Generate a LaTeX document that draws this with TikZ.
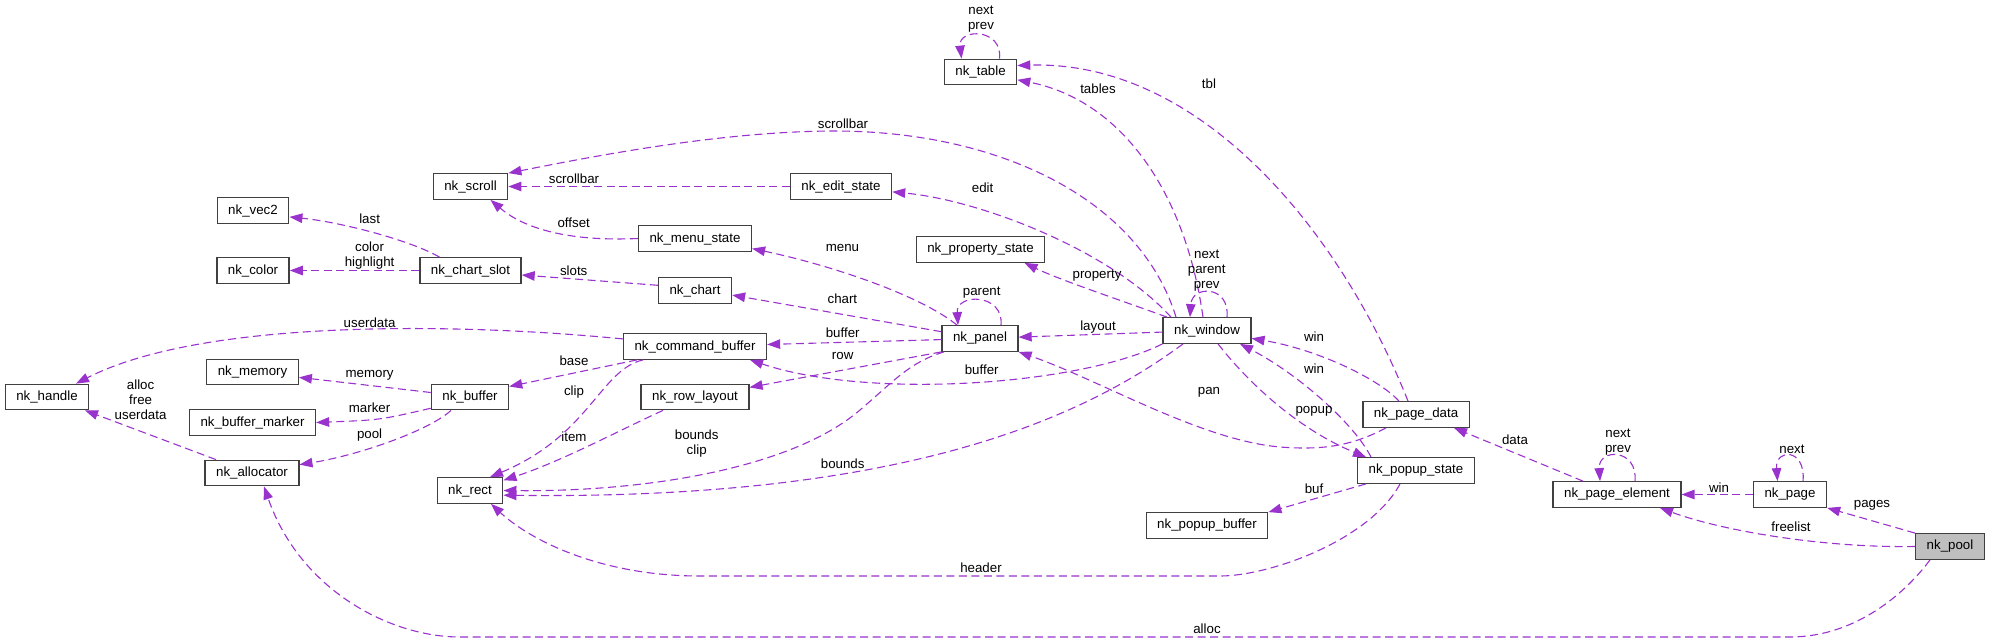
\documentclass[tikz,border=0pt]{standalone}
\usepackage{fontspec}
\setmainfont{Liberation Sans}
\usetikzlibrary{arrows.meta}
\definecolor{orchid}{RGB}{154,50,205}
\definecolor{boxline}{RGB}{64,64,64}
\definecolor{hilite}{RGB}{191,191,191}
\newcommand{\gfont}{\fontsize{13.3}{15}\selectfont}
\tikzset{
  >={Triangle[length=13pt,width=9.5pt]},
  cls/.style={draw=boxline,line width=1.3pt,fill=#1,minimum height=25.5pt,
    inner xsep=11pt,font=\gfont},
  cls/.default=white,
  rel/.style={->,draw=orchid,fill=none,line width=1.1pt,dash pattern=on 8pt off 4.5pt},
  lbl/.style={font=\gfont,align=center,inner sep=0pt},
}

\begin{document}
\begin{tikzpicture}[x=1pt,y=-1pt]
  \useasboundingbox (0,0) rectangle (1991,643);
  % classes
  \node[cls] (table) at (980.5,72) {nk\_table};
  \node[cls] (scroll) at (470.5,186.5) {nk\_scroll};
  \node[cls] (editstate) at (841,186.5) {nk\_edit\_state};
  \node[cls] (vec2) at (253,210.5) {nk\_vec2};
  \node[cls] (menustate) at (695,238.5) {nk\_menu\_state};
  \node[cls] (propstate) at (980.5,249.5) {nk\_property\_state};
  \node[cls] (colr) at (253,270.5) {nk\_color};
  \node[cls] (chartslot) at (470.5,270.5) {nk\_chart\_slot};
  \node[cls] (chart) at (695,290.5) {nk\_chart};
  \node[cls] (cmdbuf) at (695,346.5) {nk\_command\_buffer};
  \node[cls] (panel) at (980,338.5) {nk\_panel};
  \node[cls] (window) at (1207,330.5) {nk\_window};
  \node[cls] (handle) at (47,397) {nk\_handle};
  \node[cls] (memory) at (252.5,372) {nk\_memory};
  \node[cls] (buffer) at (470,397) {nk\_buffer};
  \node[cls] (rowlayout) at (695,397) {nk\_row\_layout};
  \node[cls] (bufmarker) at (252.5,422.5) {nk\_buffer\_marker};
  \node[cls] (pagedata) at (1416,414.5) {nk\_page\_data};
  \node[cls] (allocator) at (252,473) {nk\_allocator};
  \node[cls] (popupstate) at (1416,470.5) {nk\_popup\_state};
  \node[cls] (rect) at (470,490.5) {nk\_rect};
  \node[cls] (pageelem) at (1617,494.5) {nk\_page\_element};
  \node[cls] (page) at (1790,494.5) {nk\_page};
  \node[cls] (popupbuf) at (1207,525.5) {nk\_popup\_buffer};
  \node[cls=hilite] (pool) at (1950,546.5) {nk\_pool};

  % members
  \draw[rel] ([xshift=19pt]table.north) .. controls (1003,28) and (958,28) .. ([xshift=-19pt]table.north);
  \draw[rel] ([xshift=-4pt]window.north) .. controls (1185,190) and (1120,100) .. (table.-12);
  \draw[rel] ([xshift=-8pt]pagedata.north) .. controls (1340,230) and (1200,60) .. (table.10);
  \draw[rel] ([xshift=-31pt]window.north) .. controls (1140,200) and (1000,130) .. (830,131)
    .. controls (720,132) and (600,155) .. (scroll.north east);
  \draw[rel] (editstate) -- (scroll);
  \draw[rel] (menustate.west) .. controls (560,242) and (520,225) .. ([xshift=20pt]scroll.south);
  \draw[rel] ([xshift=-31pt]chartslot.north) .. controls (410,240) and (340,222) .. (vec2.-10);
  \draw[rel] (chartslot) -- (colr);
  \draw[rel] (chart.172) -- (chartslot.-5);
  \draw[rel] ([xshift=-36pt]window.north) .. controls (1110,250) and (980,200) .. (editstate.-6);
  \draw[rel] ([xshift=-40pt]window.north) .. controls (1120,300) and (1060,280) .. ([xshift=44pt]propstate.south);
  \draw[rel] ([xshift=-23pt]panel.north) .. controls (920,295) and (830,265) .. (menustate.-10);
  \draw[rel] (panel.170) -- (chart.-7);
  \draw[rel] ([xshift=21pt]panel.north) .. controls (1004,293) and (956,293) .. ([xshift=-22pt]panel.north);
  \draw[rel] ([xshift=20pt]window.north) .. controls (1230,285) and (1192,285) .. ([xshift=-17pt]window.north);
  \draw[rel] (panel) -- (cmdbuf);
  \draw[rel] (window) -- (panel);
  \draw[rel] (cmdbuf.174) .. controls (450,322) and (200,320) .. ([xshift=29pt]handle.north);
  \draw[rel] (buffer) -- (memory);
  \draw[rel] ([xshift=-58pt]cmdbuf.south) -- (buffer.15);
  \draw[rel] (buffer.196) .. controls (380,420) .. (bufmarker.east);
  \draw[rel] ([xshift=-19pt]buffer.south) .. controls (430,430) and (360,455) .. (allocator.10);
  \draw[rel] ([xshift=-36pt]allocator.north) -- ([xshift=38pt]handle.south);
  \draw[rel] ([xshift=-52pt]cmdbuf.south) .. controls (600,370) and (590,435) .. ([xshift=20pt]rect.north);
  \draw[rel] ([xshift=-32pt]rowlayout.south) .. controls (620,430) and (560,462) .. (rect.17);
  \draw[rel] (panel.south west) -- (rowlayout.10);
  \draw[rel] (window.south west) .. controls (1080,385) and (870,400) .. ([xshift=55pt]cmdbuf.south);
  \draw[rel] ([xshift=-36pt]panel.south) .. controls (910,362) and (895,380) .. (860,410)
    .. controls (790,470) and (640,492) .. (rect.east);
  \draw[rel] ([xshift=-24pt]window.south) .. controls (1080,420) and (900,500) .. (rect.-8);
  \draw[rel] ([xshift=-17pt]pagedata.north) .. controls (1380,380) and (1320,350) .. (window.-10);
  \draw[rel] ([xshift=-45pt]popupstate.north) .. controls (1355,425) and (1300,375) .. ([xshift=33pt]window.south);
  \draw[rel] ([xshift=11pt]window.south) .. controls (1250,385) and (1300,430) .. ([xshift=-50pt]popupstate.north);
  \draw[rel] ([xshift=-30pt]pagedata.south) .. controls (1350,447) and (1320,450) .. (1280,447)
    .. controls (1200,440) and (1100,380) .. (panel.south east);
  \draw[rel] ([xshift=-50pt]popupstate.south) -- (popupbuf.north east);
  \draw[rel] ([xshift=-16pt]popupstate.south) .. controls (1370,540) and (1270,576) .. (1220,576)
    -- (700,576) .. controls (600,576) and (530,540) .. ([xshift=21pt]rect.south);
  \draw[rel] ([xshift=-20pt]pool.south) .. controls (1900,600) and (1850,637) .. (1790,637)
    -- (460,637) .. controls (390,637) and (300,590) .. ([xshift=12pt]allocator.south);
  \draw[rel] ([xshift=-34pt]pageelem.north) -- ([xshift=38pt]pagedata.south);
  \draw[rel] ([xshift=18pt]pageelem.north) .. controls (1638,448) and (1598,448) .. ([xshift=-17pt]pageelem.north);
  \draw[rel] (page) -- (pageelem);
  \draw[rel] ([xshift=13pt]page.north) .. controls (1806,448) and (1775,448) .. ([xshift=-12.5pt]page.north);
  \draw[rel] (pool.north west) -- (page.south east);
  \draw[rel] (pool.west) .. controls (1820,548) and (1720,530) .. ([xshift=43pt]pageelem.south);

  % member names
  \node[lbl] (t-tbloop) at (981,19.5) {next\\prev};
  \node[lbl] (t-tables) at (1098,88.3) {tables};
  \node[lbl] (t-tbl) at (1209,84) {tbl};
  \node[lbl] (t-scrollw) at (843,124) {scrollbar};
  \node[lbl] (t-scrolle) at (574,178.7) {scrollbar};
  \node[lbl] (t-offset) at (573.7,222.7) {offset};
  \node[lbl] (t-last) at (369.6,218.3) {last};
  \node[lbl] (t-color) at (369.6,255.2) {color\\highlight};
  \node[lbl] (t-slots) at (573.7,270.7) {slots};
  \node[lbl] (t-edit) at (982.6,187.7) {edit};
  \node[lbl] (t-menu) at (842.4,248.3) {menu};
  \node[lbl] (t-prop) at (1097,276) {property};
  \node[lbl] (t-chart) at (842.4,298.3) {chart};
  \node[lbl] (t-parent) at (981.7,292.7) {parent};
  \node[lbl] (t-winloop) at (1206.7,270.7) {next\\parent\\prev};
  \node[lbl] (t-layout) at (1098,326.7) {layout};
  \node[lbl] (t-bufp) at (842.7,332.7) {buffer};
  \node[lbl] (t-row) at (842.7,355.7) {row};
  \node[lbl] (t-bufw) at (981.7,370) {buffer};
  \node[lbl] (t-udata) at (369.6,322.7) {userdata};
  \node[lbl] (t-memory) at (369.6,375) {memory};
  \node[lbl] (t-marker) at (369.6,407.7) {marker};
  \node[lbl] (t-pool) at (369.6,435) {pool};
  \node[lbl] (t-alloc3) at (140.6,399.3) {alloc\\free\\userdata};
  \node[lbl] (t-base) at (574,360.7) {base};
  \node[lbl] (t-clip) at (574,391.7) {clip};
  \node[lbl] (t-item) at (574,436.7) {item};
  \node[lbl] (t-bndclip) at (696.7,443.2) {bounds\\clip};
  \node[lbl] (t-bounds) at (842.7,464) {bounds};
  \node[lbl] (t-wina) at (1314,336.7) {win};
  \node[lbl] (t-winb) at (1314,368.7) {win};
  \node[lbl] (t-pan) at (1209,392) {pan};
  \node[lbl] (t-popup) at (1314,411) {popup};
  \node[lbl] (t-buf) at (1314,488.7) {buf};
  \node[lbl] (t-header) at (981,568) {header};
  \node[lbl] (t-alloc) at (1207,629) {alloc};
  \node[lbl] (t-data) at (1515,440) {data};
  \node[lbl] (t-elloop) at (1618,441.8) {next\\prev};
  \node[lbl] (t-winc) at (1719,487.3) {win};
  \node[lbl] (t-pgloop) at (1792,449) {next};
  \node[lbl] (t-pages) at (1872,505) {pages};
  \node[lbl] (t-freelist) at (1791,526.7) {freelist};
\end{tikzpicture}
\end{document}
